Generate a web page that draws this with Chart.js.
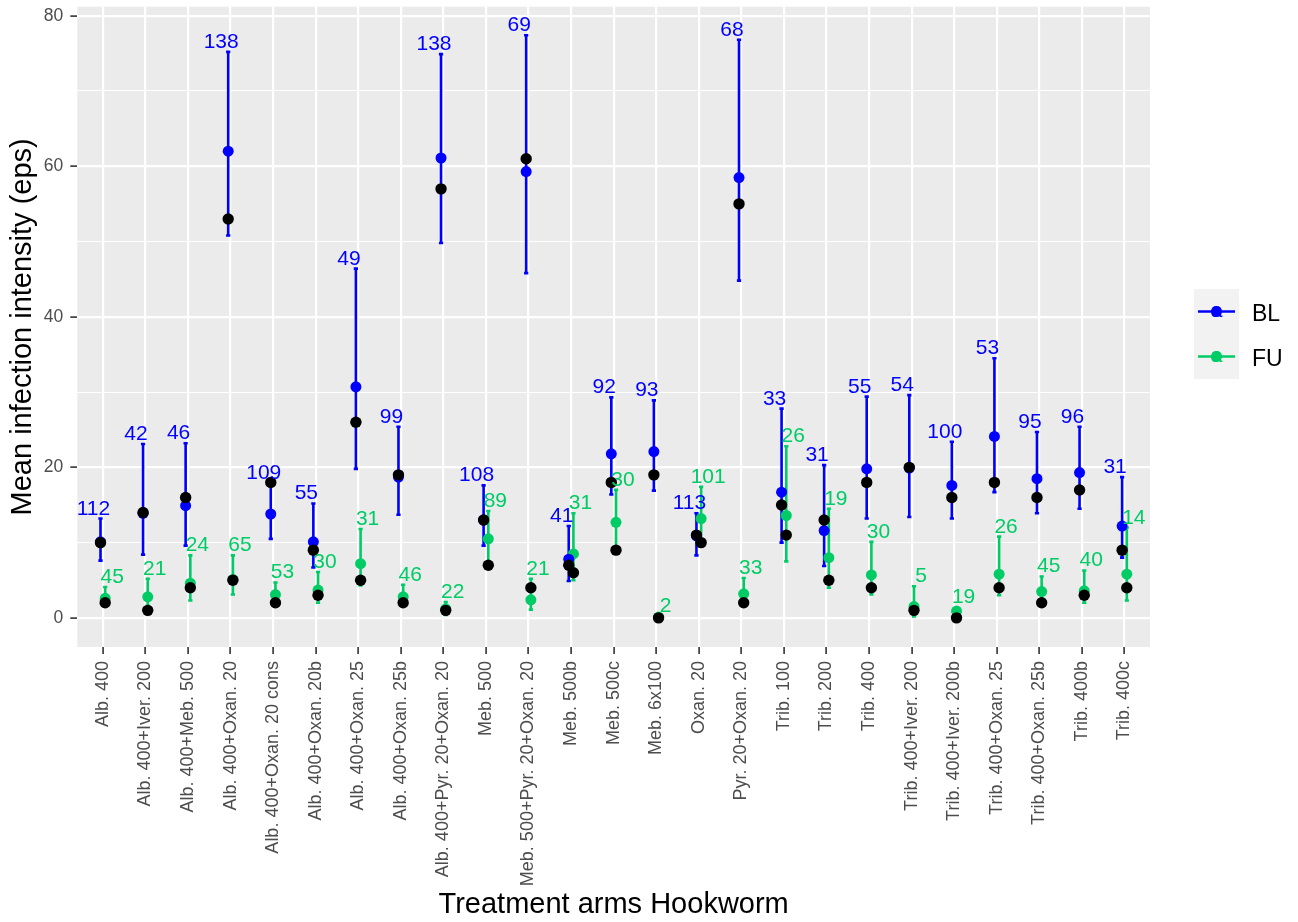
<!DOCTYPE html>
<html>
<head>
<meta charset="utf-8">
<script src="https://cdn.jsdelivr.net/npm/chart.js@4/dist/chart.umd.min.js"></script>
<style>
  html, body { margin: 0; padding: 0; background: #ffffff; }
  canvas { display: block; }
</style>
</head>
<body>
<canvas id="chart" width="1298" height="922"></canvas>
<script>
// Treatment arms (x categories)
const categories = [
  "Alb. 400", "Alb. 400+Iver. 200", "Alb. 400+Meb. 500", "Alb. 400+Oxan. 20",
  "Alb. 400+Oxan. 20 cons", "Alb. 400+Oxan. 20b", "Alb. 400+Oxan. 25", "Alb. 400+Oxan. 25b",
  "Alb. 400+Pyr. 20+Oxan. 20", "Meb. 500", "Meb. 500+Pyr. 20+Oxan. 20", "Meb. 500b",
  "Meb. 500c", "Meb. 6x100", "Oxan. 20", "Pyr. 20+Oxan. 20", "Trib. 100", "Trib. 200",
  "Trib. 400", "Trib. 400+Iver. 200", "Trib. 400+Iver. 200b", "Trib. 400+Oxan. 25",
  "Trib. 400+Oxan. 25b", "Trib. 400b", "Trib. 400c"
];

// Baseline (BL): sample size, mean, CI bounds, median
const blN      = [112, 42, 46, 138, 109, 55, 49, 99, 138, 108, 69, 41, 92, 93, 113, 68, 33, 31, 55, 54, 100, 53, 95, 96, 31];
const blMean   = [10.1, 13.9, 14.9, 62.0, 13.8, 10.1, 30.7, 18.7, 61.1, 13.0, 59.3, 7.8, 21.8, 22.1, 10.9, 58.5, 16.7, 11.6, 19.8, 19.9, 17.6, 24.1, 18.5, 19.3, 12.2];
const blLow    = [7.6, 8.4, 9.6, 50.8, 10.5, 6.7, 19.8, 13.7, 49.8, 9.6, 45.8, 4.9, 16.4, 16.9, 8.3, 44.8, 10.0, 6.9, 13.2, 13.4, 13.2, 16.7, 13.9, 14.5, 8.0];
const blHigh   = [13.2, 23.1, 23.2, 75.2, 17.9, 15.2, 46.4, 25.4, 74.9, 17.6, 77.4, 12.2, 29.3, 28.9, 13.9, 76.8, 27.8, 20.3, 29.4, 29.6, 23.4, 34.5, 24.7, 25.4, 18.7];
const blMedian = [10, 14, 16, 53, 18, 9, 26, 19, 57, 13, 61, 7, 18, 19, 11, 55, 15, 13, 18, 20, 16, 18, 16, 17, 9];

// Follow-up (FU): sample size, mean, CI bounds, median
const fuN      = [45, 21, 24, 65, 53, 30, 31, 46, 22, 89, 21, 31, 30, 2, 101, 33, 26, 19, 30, 5, 19, 26, 45, 40, 14];
const fuMean   = [2.6, 2.8, 4.6, 5.1, 3.1, 3.7, 7.2, 2.8, 1.2, 10.5, 2.4, 8.5, 12.7, 0.1, 13.2, 3.2, 13.6, 8.0, 5.7, 1.5, 0.9, 5.8, 3.5, 3.6, 5.8];
const fuLow    = [1.7, 1.6, 2.3, 3.1, 1.8, 2.0, 4.3, 1.6, 0.4, 6.6, 1.1, 5.0, 9.0, 0.0, 10.0, 1.8, 7.5, 4.0, 3.1, 0.2, 0.4, 3.0, 2.3, 2.0, 2.3];
const fuHigh   = [4.1, 5.2, 8.3, 8.3, 4.7, 6.1, 11.8, 4.4, 2.1, 14.2, 5.2, 13.9, 17.0, 0.2, 17.4, 5.3, 22.8, 14.5, 10.1, 4.2, 1.4, 10.8, 5.5, 6.3, 12.0];
const fuMedian = [2, 1, 4, 5, 2, 3, 5, 2, 1, 7, 4, 6, 9, 0, 10, 2, 11, 5, 4, 1, 0, 4, 2, 3, 4];

// y axis: labelled ticks every 20, minor grid every 10
const yTickValues = [0, 10, 20, 30, 40, 50, 60, 70, 80];
const yLabelled   = [0, 20, 40, 60, 80];

const BLUE = '#0000FF';
const GREEN = '#00CC66';
const FONT = "'Liberation Sans', Arial, sans-serif";

const DODGE = 0.055;       // horizontal shift of BL / FU within a category
const LABEL_DODGE = 0.22;  // horizontal shift of the n labels
const CAP = 0.05;          // half-width of error bar caps

function errorBars(lo, hi, shift) {
  const pts = [];
  lo.forEach((l, i) => {
    const x = i + shift, h = hi[i];
    pts.push({x: x - CAP, y: h}, {x: x + CAP, y: h}, {x: x, y: null},
             {x: x, y: h}, {x: x, y: l}, {x: x, y: null},
             {x: x - CAP, y: l}, {x: x + CAP, y: l}, {x: x, y: null});
  });
  return pts;
}
const pointsAt = (vals, shift) => vals.map((v, i) => ({x: i + shift, y: v}));

// grey panel behind the grid
const panelBackground = {
  id: 'panelBackground',
  beforeDraw(chart) {
    const {ctx, chartArea: a} = chart;
    ctx.save();
    ctx.fillStyle = '#EBEBEB';
    ctx.fillRect(a.left, a.top, a.right - a.left, a.bottom - a.top);
    ctx.restore();
  }
};

// sample-size labels above the upper error bar ends
const sizeLabels = {
  id: 'sizeLabels',
  afterDatasetsDraw(chart) {
    const {ctx, scales: {x, y}} = chart;
    ctx.save();
    ctx.font = '21px ' + FONT;
    ctx.textAlign = 'center';
    ctx.textBaseline = 'alphabetic';
    categories.forEach((c, i) => {
      ctx.fillStyle = BLUE;
      ctx.fillText(String(blN[i]), x.getPixelForValue(i - LABEL_DODGE), y.getPixelForValue(blHigh[i]) - 4);
      ctx.fillStyle = GREEN;
      ctx.fillText(String(fuN[i]), x.getPixelForValue(i + LABEL_DODGE), y.getPixelForValue(fuHigh[i]) - 4);
    });
    ctx.restore();
  }
};

// legend on the right: line + point + "a" key, then the group name
const sideLegend = {
  id: 'sideLegend',
  afterDraw(chart) {
    const {ctx} = chart;
    const groups = [{name: 'BL', color: BLUE}, {name: 'FU', color: GREEN}];
    const kx = 1194, kw = 45, kh = 45, ky = 289;
    ctx.save();
    ctx.fillStyle = '#F2F2F2';
    ctx.fillRect(kx, ky, kw, kh * groups.length);
    groups.forEach((g, j) => {
      const cy = ky + kh * j + kh / 2;
      const cx = kx + kw / 2;
      ctx.strokeStyle = g.color;
      ctx.lineWidth = 2.6;
      ctx.beginPath();
      ctx.moveTo(kx + 4, cy);
      ctx.lineTo(kx + kw - 4, cy);
      ctx.stroke();
      ctx.fillStyle = g.color;
      ctx.font = '21px ' + FONT;
      ctx.textAlign = 'center';
      ctx.textBaseline = 'middle';
      ctx.fillText('a', cx, cy);
      ctx.beginPath();
      ctx.arc(cx, cy, 5.5, 0, Math.PI * 2);
      ctx.fill();
      ctx.fillStyle = '#000000';
      ctx.font = '23px ' + FONT;
      ctx.textAlign = 'left';
      ctx.textBaseline = 'alphabetic';
      ctx.fillText(g.name, 1252, cy + 9);
    });
    ctx.restore();
  }
};

const errorLine = (data, color) => ({
  data, showLine: true, borderColor: color, borderWidth: 2.6, pointRadius: 0,
  spanGaps: false, borderCapStyle: 'butt', order: 3
});
const dots = (data, color, r, order) => ({
  data, showLine: false, backgroundColor: color, borderColor: color,
  pointRadius: r, pointBorderWidth: 0, order
});

new Chart(document.getElementById('chart'), {
  type: 'scatter',
  data: {
    datasets: [
      errorLine(errorBars(blLow, blHigh, -DODGE), BLUE),
      errorLine(errorBars(fuLow, fuHigh, DODGE), GREEN),
      dots(pointsAt(blMean, -DODGE), BLUE, 5.5, 2),
      dots(pointsAt(fuMean, DODGE), GREEN, 5.5, 2),
      dots(pointsAt(blMedian, -DODGE), '#000000', 5.7, 1),
      dots(pointsAt(fuMedian, DODGE), '#000000', 5.7, 1)
    ]
  },
  options: {
    responsive: false,
    devicePixelRatio: 1,
    animation: false,
    events: [],
    layout: {padding: {top: 6.7, right: 148, left: 0, bottom: 0}},
    plugins: {legend: {display: false}, tooltip: {enabled: false}},
    scales: {
      x: {
        type: 'linear',
        min: -0.6,
        max: categories.length - 0.4,
        afterBuildTicks: (scale) => { scale.ticks = categories.map((c, i) => ({value: i})); },
        afterFit: (scale) => { scale.height = 275; scale.paddingLeft = 0; scale.paddingRight = 0; },
        grid: {color: '#FFFFFF', lineWidth: 2.2, tickColor: '#333333', tickWidth: 1.6, tickLength: 7},
        border: {display: false},
        ticks: {
          autoSkip: false, minRotation: 90, maxRotation: 90, padding: 7,
          color: '#4D4D4D', font: {family: FONT, size: 18},
          callback: (v) => categories[v] ?? ''
        },
        title: {
          display: true, text: 'Treatment arms Hookworm', color: '#000000',
          font: {family: FONT, size: 29}, padding: {top: 0, bottom: 0}
        }
      },
      y: {
        type: 'linear',
        min: -3.87,
        max: 81.2,
        afterBuildTicks: (scale) => { scale.ticks = yTickValues.map(v => ({value: v})); },
        afterFit: (scale) => { scale.width = 77.3; scale.paddingTop = 0; scale.paddingBottom = 0; },
        grid: {
          color: '#FFFFFF',
          lineWidth: (c) => yLabelled.includes(c.tick.value) ? 2.2 : 1.1,
          tickColor: (c) => yLabelled.includes(c.tick.value) ? '#333333' : 'rgba(0,0,0,0)',
          tickWidth: 1.6, tickLength: 7
        },
        border: {display: false},
        ticks: {
          padding: 7, color: '#4D4D4D', font: {family: FONT, size: 17.5},
          callback: (v) => yLabelled.includes(v) ? String(v) : ''
        },
        title: {
          display: true, text: 'Mean infection intensity (eps)', color: '#000000',
          font: {family: FONT, size: 29}, padding: {top: 6, bottom: 0}
        }
      }
    }
  },
  plugins: [panelBackground, sizeLabels, sideLegend]
});
</script>
</body>
</html>
